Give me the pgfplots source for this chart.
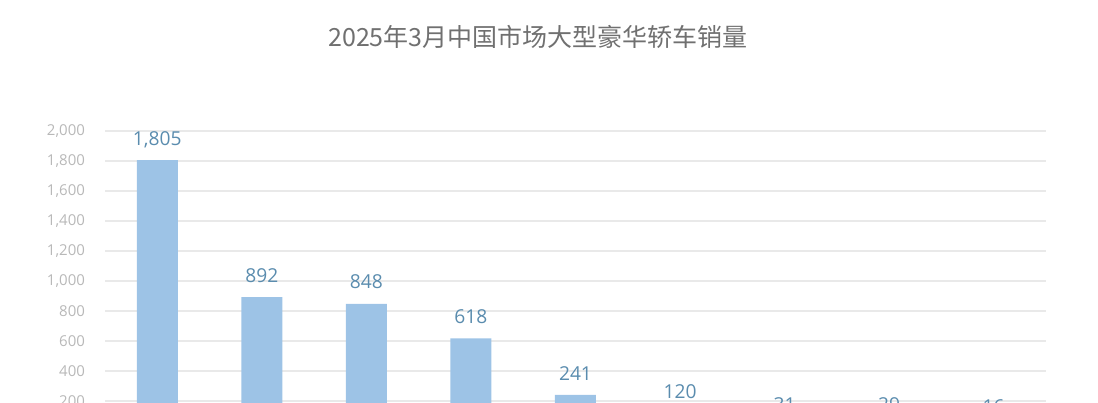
\documentclass[border=0pt]{standalone}
\usepackage{pgfplots}
\pgfplotsset{compat=1.18}
\usepackage{fontspec}
\setmainfont{Open Sans}
\newfontfamily\cjk{Noto Sans CJK SC}
\definecolor{barblue}{HTML}{9DC3E6}
\definecolor{valblue}{HTML}{5A8CAE}
\definecolor{tickgray}{HTML}{B8B8B8}
\definecolor{gridgray}{HTML}{E9E9E9}
\definecolor{titlegray}{HTML}{707070}
\begin{document}
\begin{tikzpicture}
\begin{axis}[
  scale only axis,
  width=470.5pt, height=150pt,
  xmin=-0.5, xmax=8.5,
  ymin=0, ymax=2000,
  ytick={0,200,...,2000},
  xtick=\empty,
  axis line style={draw=none},
  ytick style={draw=none},
  ymajorgrids=true,
  grid style={gridgray, line width=0.6pt},
  /pgf/number format/assume math mode=true,
  /pgf/number format/1000 sep={,},
  yticklabel style={font=\fontsize{7.5}{9}\selectfont, text=tickgray, xshift=-6.5pt},
  ybar, bar width=20.5pt,
  nodes near coords,
  nodes near coords style={font=\fontsize{9.6}{11}\selectfont, text=valblue, anchor=base, yshift=7.4pt},
]
\addplot[fill=barblue, draw=none] coordinates {
  (0,1805) (1,892) (2,848) (3,618) (4,241) (5,120) (6,31) (7,29) (8,16)
};
\coordinate (o) at (rel axis cs:0,0);
\end{axis}
\node[font=\cjk\fontsize{12.5}{15}\selectfont, text=titlegray] at ([xshift=216.5pt,yshift=197pt]o) {2025年3月中国市场大型豪华轿车销量};
\pgfresetboundingbox
\useasboundingbox ([xshift=-52.5pt,yshift=14.5pt]o) rectangle ([xshift=496.5pt,yshift=215.5pt]o);
\end{tikzpicture}
\end{document}
